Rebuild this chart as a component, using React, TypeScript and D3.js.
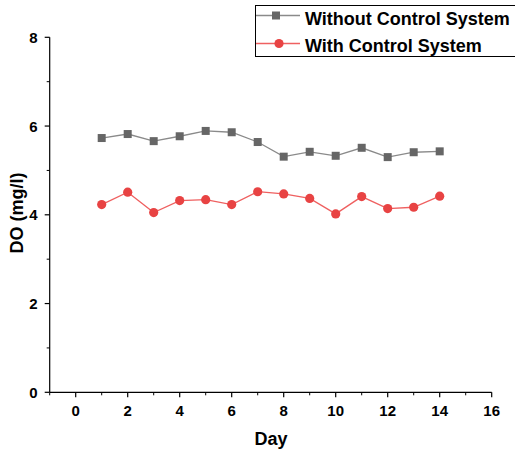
import React from "react";
import * as d3 from "d3";

const days = [1, 2, 3, 4, 5, 6, 7, 8, 9, 10, 11, 12, 13, 14];
const withoutControl = [5.73, 5.82, 5.66, 5.77, 5.89, 5.86, 5.64, 5.31, 5.42, 5.33, 5.51, 5.3, 5.41, 5.43];
const withControl = [4.23, 4.51, 4.05, 4.32, 4.34, 4.23, 4.52, 4.47, 4.37, 4.02, 4.41, 4.14, 4.17, 4.42];
const xTicks = [0, 2, 4, 6, 8, 10, 12, 14, 16];
const yTicks = [0, 2, 4, 6, 8];
const seriesNames = ["Without Control System", "With Control System"];

export default function App() {
  const W = 515, H = 452;
  const x = d3.scaleLinear().domain([-1, 16]).range([49.7, 491.7]);
  const y = d3.scaleLinear().domain([0, 8]).range([392.3, 37.3]);
  const line = d3.line<number>().x((_, i) => x(days[i])).y((d) => y(d));
  const font = "'Liberation Sans', Arial, sans-serif";
  const xMinor = d3.range(-1, 17, 1).filter((v) => v % 2 !== 0);
  const yMinor = [1, 3, 5, 7];
  const gray = "#666666";
  const grayLine = "#8a8a8a";
  const red = "#e84343";
  const redLine = "#ef6060";
  return (
    <svg width={W} height={H} style={{ position: "absolute", left: 0, top: 0 }} fontFamily={font}>
      <rect width={W} height={H} fill="#fff" />
      {/* axes */}
      <line x1={x(-1)} x2={x(16)} y1={y(0)} y2={y(0)} stroke="#000" strokeWidth={1.2} />
      <line x1={x(-1)} x2={x(-1)} y1={y(0)} y2={y(8)} stroke="#000" strokeWidth={1.2} />
      {xTicks.map((t) => (
        <g key={"xt" + t}>
          <line x1={x(t)} x2={x(t)} y1={y(0)} y2={y(0) + 5} stroke="#000" strokeWidth={1.2} />
          <text x={x(t)} y={y(0) + 24} textAnchor="middle" fontSize={15} fontWeight="bold">{t}</text>
        </g>
      ))}
      {xMinor.map((t) => (
        <line key={"xm" + t} x1={x(t)} x2={x(t)} y1={y(0)} y2={y(0) + 3} stroke="#000" strokeWidth={1} />
      ))}
      {yTicks.map((t) => (
        <g key={"yt" + t}>
          <line x1={x(-1) - 5} x2={x(-1)} y1={y(t)} y2={y(t)} stroke="#000" strokeWidth={1.2} />
          <text x={x(-1) - 12} y={y(t) + 5.5} textAnchor="end" fontSize={15} fontWeight="bold">{t}</text>
        </g>
      ))}
      {yMinor.map((t) => (
        <line key={"ym" + t} x1={x(-1) - 3} x2={x(-1)} y1={y(t)} y2={y(t)} stroke="#000" strokeWidth={1} />
      ))}
      <text x={271} y={445} textAnchor="middle" fontSize={18} fontWeight="bold">Day</text>
      <text transform={`translate(23,${213}) rotate(-90)`} textAnchor="middle" fontSize={18} fontWeight="bold">DO (mg/l)</text>
      {/* series */}
      <path d={line(withoutControl) || ""} fill="none" stroke={grayLine} strokeWidth={1.3} />
      {withoutControl.map((v, i) => (
        <rect key={"g" + i} x={x(days[i]) - 4} y={y(v) - 4} width={8} height={8} fill={gray} />
      ))}
      <path d={line(withControl) || ""} fill="none" stroke={redLine} strokeWidth={1.3} />
      {withControl.map((v, i) => (
        <circle key={"r" + i} cx={x(days[i])} cy={y(v)} r={4.6} fill={red} />
      ))}
      {/* legend */}
      <rect x={255.5} y={5.5} width={270} height={51} fill="#fff" stroke="#000" strokeWidth={1} />
      <line x1={256} x2={300} y1={15.5} y2={15.5} stroke={grayLine} strokeWidth={1.3} />
      <rect x={272} y={11.5} width={8} height={8} fill={gray} />
      <text x={305} y={25} fontSize={18} fontWeight="bold">{seriesNames[0]}</text>
      <line x1={256} x2={300} y1={43.5} y2={43.5} stroke={redLine} strokeWidth={1.3} />
      <circle cx={279} cy={43.5} r={4.6} fill={red} />
      <text x={305} y={52} fontSize={18} fontWeight="bold">{seriesNames[1]}</text>
    </svg>
  );
}
